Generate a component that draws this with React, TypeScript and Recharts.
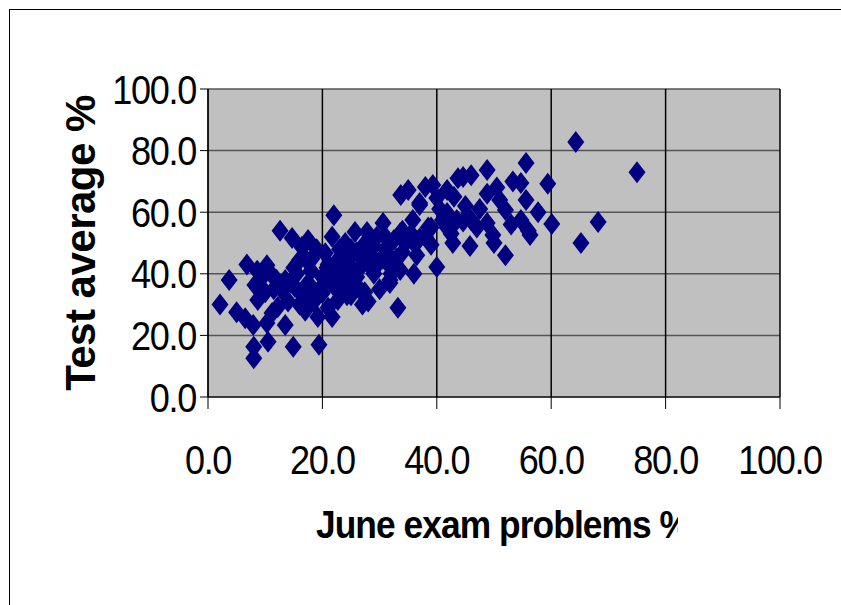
import React from 'react';
import { ScatterChart, Scatter, XAxis, YAxis, CartesianGrid, Label } from 'recharts';

// June exam problems % (x) against test average % (y)
const juneExam = [
  2.1, 3.7, 5, 6.5, 6.8, 7.9, 8, 8, 8.2, 8.7, 8.6, 9.5, 10.3, 10.3, 10.5, 11.2, 11.5, 12.2, 12.6, 12.9,
  13.5, 13.5, 14, 14.7, 14.9, 15.2, 15.5, 16, 16.4, 16.5, 17, 17.5, 17.5, 18, 18.2, 18.5, 19.2, 19.4, 19.5, 20,
  20, 20.5, 20.8, 21, 21.7, 21.7, 22, 22, 22.5, 22.7, 23, 23.4, 23.5, 24, 24.3, 24.5, 25, 25.5, 25.7, 26,
  26.5, 27, 27.4, 27.5, 27.8, 28, 28.5, 29, 29.5, 30, 30.6, 31, 31.3, 31.8, 31.8, 32, 32.5, 33.2, 33.6, 33.6,
  33.7, 34, 34, 35, 35.8, 36, 37, 37, 37, 38, 38.5, 39.3, 39, 40, 40, 41, 41.8, 41.8, 41.8, 42.5,
  42.8, 43.5, 43.7, 44.6, 44.6, 45.8, 46, 46, 47.5, 48.8, 48.8, 48.8, 49.8, 50.5, 52, 52, 53.3, 54.7, 54.7, 55.6,
  55.6, 56, 56.3, 57.7, 59.4, 60.1, 64.3, 65.2, 68.2, 75,
  14.5, 16, 18, 20.5, 22, 23, 24, 25, 26, 27, 28.5, 29, 30.5, 31, 32, 33, 34.5, 35.5, 36.5, 38,
  12, 10, 11, 15, 17, 19, 21, 22.5, 25, 27, 30, 36, 39, 40.5, 43, 45, 47, 50, 51, 53,
];
const testAverage = [
  30, 38, 27.5, 25.6, 43, 23.4, 16.3, 12.6, 36.4, 31.5, 41, 39, 42.8, 24, 17.9, 27.3, 35, 29.2, 54, 34.7,
  23.4, 38, 31, 51.6, 16.3, 35.7, 40, 44.5, 48.7, 33, 28, 51, 37, 41, 45, 31, 26, 17, 35, 33.8,
  39, 46.7, 42, 29, 52, 26, 59, 36, 44, 31.5, 48, 39.6, 42, 50, 33, 45, 37, 41, 53.6, 47,
  35, 43, 34, 50, 53.6, 31, 46, 40, 52, 44, 56.5, 48, 46.7, 37, 38, 42, 51, 29, 53.2, 41.2,
  65.6, 54, 47, 67.2, 57.5, 50, 62.3, 51.5, 63, 68.2, 55, 68.8, 49.4, 64.6, 42.2, 57.5, 67.2, 59.7, 55, 53,
  50, 57.5, 71, 57, 71.4, 49, 72, 57.5, 61, 73.7, 66, 56.5, 52.6, 68, 60.7, 46, 70, 69.5, 57.5, 76,
  64, 54, 52.6, 60, 69.2, 56.2, 82.8, 50, 56.8, 73,
  37, 30, 34, 38, 40, 35, 44, 48, 39, 46, 42, 49, 45, 52, 40, 45, 50, 53, 46, 52,
  38, 34, 40, 42, 45, 48, 43, 37, 33, 30, 35, 40, 55, 61, 65, 62, 55, 50, 64, 56,
];
const axisTicks = [0, 20, 40, 60, 80, 100];

const points = juneExam.map((x, i) => ({ x, y: testAverage[i] }));

const fmt = (v: number) => v.toFixed(1);
const FONT = 'Liberation Sans, Arial, sans-serif';

const Diamond = (props: any) => {
  const { cx, cy } = props;
  if (cx == null || cy == null) return null;
  return (
    <polygon
      points={`${cx},${cy - 11} ${cx + 8.5},${cy} ${cx},${cy + 11} ${cx - 8.5},${cy}`}
      fill="#000080"
    />
  );
};

// condensed tick text, like the narrow look of the original
const XTick = (props: any) => {
  const { x, y, payload } = props;
  return (
    <text transform={`translate(${x} ${y}) scale(0.88 1)`} textAnchor="middle" dy="0.71em" fontFamily={FONT} fontSize={41} letterSpacing={-1.5} fill="#000">
      {fmt(payload.value)}
    </text>
  );
};

const YTick = (props: any) => {
  const { x, y, payload } = props;
  return (
    <text transform={`translate(${x} ${y}) scale(0.88 1)`} textAnchor="end" dy="0.355em" fontFamily={FONT} fontSize={41} letterSpacing={-1.5} fill="#000">
      {fmt(payload.value)}
    </text>
  );
};

export default function App() {
  return (
    <div style={{ position: 'fixed', left: 0, top: 0, width: 841, height: 605, background: '#fff', overflow: 'hidden' }}>
      {/* outer chart frame */}
      <div style={{ position: 'absolute', left: 9, top: 9, width: 840, height: 604, borderLeft: '1px solid #000', borderTop: '1px solid #000' }} />
      <div style={{ position: 'absolute', left: 0, top: 0 }}>
        <ScatterChart width={841} height={605} margin={{ top: 89, right: 61, left: 88, bottom: 0 }}>
          <defs>
            <clipPath id="xTitleClip" clipPathUnits="userSpaceOnUse">
              <rect x={0} y={480} width={678} height={100} />
            </clipPath>
          </defs>
          <CartesianGrid fill="#c0c0c0" vertical={false} stroke="#555" strokeWidth={1.5} />
          <CartesianGrid horizontal={false} stroke="#000" strokeWidth={1.5} />
          <XAxis
            type="number"
            dataKey="x"
            domain={[0, 100]}
            ticks={axisTicks}
            height={208}
            tickSize={12}
            tickMargin={36}
            stroke="#000"
            tick={<XTick />}
            interval={0}
          >
            <Label
              content={({ viewBox }: any) => {
                const cx = viewBox.x + viewBox.width / 2 + 9;
                const cy = viewBox.y + 141;
                return (
                  <g clipPath="url(#xTitleClip)">
                    <text
                      transform={`translate(${cx} ${cy}) scale(0.93 1)`}
                      textAnchor="middle"
                      fontSize={38}
                      letterSpacing={-1}
                      fontFamily={FONT}
                      fontWeight="bold"
                      fill="#000"
                    >
                      June exam problems %
                    </text>
                  </g>
                );
              }}
            />
          </XAxis>
          <YAxis
            type="number"
            dataKey="y"
            domain={[0, 100]}
            ticks={axisTicks}
            width={120}
            tickSize={8}
            tickMargin={4}
            stroke="#000"
            tick={<YTick />}
            interval={0}
          >
            <Label
              content={({ viewBox }: any) => {
                const cx = viewBox.x - 8;
                const cy = viewBox.y + viewBox.height / 2;
                return (
                  <text
                    x={cx}
                    y={cy}
                    transform={`rotate(-90 ${cx} ${cy})`}
                    textAnchor="middle"
                    dominantBaseline="central"
                    fontSize={42}
                    letterSpacing={-0.5}
                    fontFamily={FONT}
                    fontWeight="bold"
                    fill="#000"
                  >
                    Test average %
                  </text>
                );
              }}
            />
          </YAxis>
          <Scatter data={points} shape={Diamond} isAnimationActive={false} />
        </ScatterChart>
      </div>
    </div>
  );
}
